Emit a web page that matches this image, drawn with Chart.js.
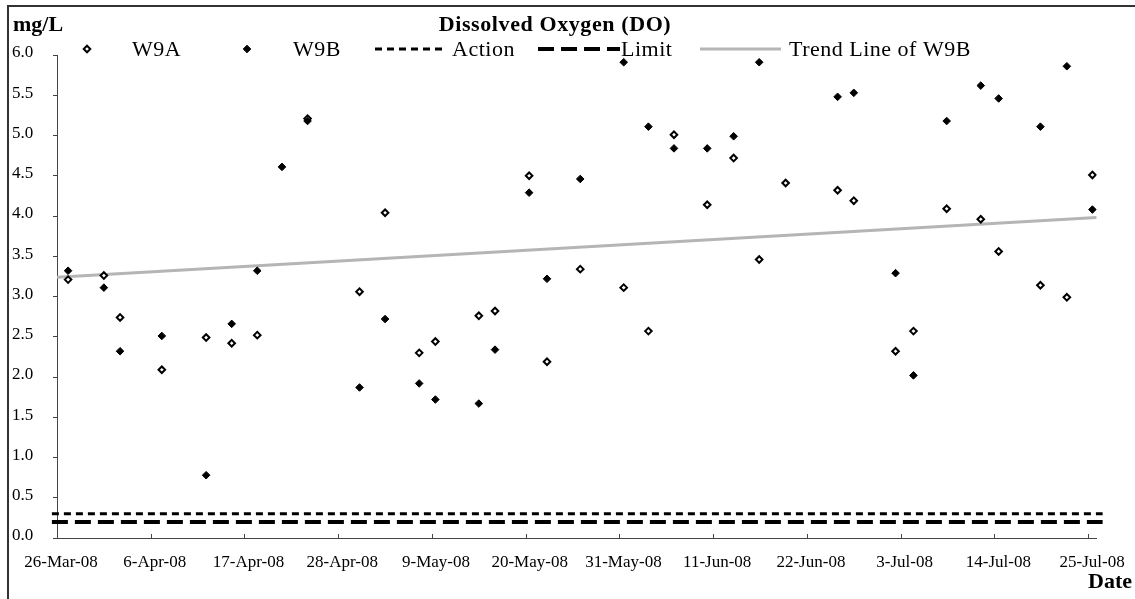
<!DOCTYPE html>
<html>
<head>
<meta charset="utf-8">
<script src="https://cdn.jsdelivr.net/npm/chart.js@4.4.1/dist/chart.umd.min.js"></script>
<style>
    html, body { margin: 0; padding: 0; background: #fff; }
    #wrap { position: relative; width: 1135px; height: 599px; }
</style>
</head>
<body>
<div id="wrap"><canvas id="doChart" width="1135" height="599"></canvas></div>
<script>
// Chart data
const chartTitle = 'Dissolved Oxygen (DO)';
const tickLabels = ['26-Mar-08', '6-Apr-08', '17-Apr-08', '28-Apr-08', '9-May-08', '20-May-08',
    '31-May-08', '11-Jun-08', '22-Jun-08', '3-Jul-08', '14-Jul-08', '25-Jul-08'];
const tickStep = 11;   // days between date ticks
const axisDays = 122;  // 26-Mar-08 .. 26-Jul-08

// sampling days, counted from 26-Mar-08
const sampleDays = [1.3, 5.5, 7.4, 12.3, 17.5, 20.5, 23.5, 26.4, 29.4, 35.5, 38.5, 42.5, 44.4, 49.5,
    51.4, 55.4, 57.5, 61.4, 66.5, 69.4, 72.4, 76.3, 79.4, 82.4, 85.5, 91.6, 93.5, 98.4, 100.5,
    104.4, 108.4, 110.5, 115.4, 118.5, 121.5];
const w9aValues = [3.21, 3.26, 2.74, 2.09, 2.49, 2.42, 2.52, null, 5.21, 3.06, 4.04, 2.30, 2.44, 2.76,
    2.82, 4.50, 2.19, 3.34, 3.11, 2.57, 5.01, 4.14, 4.72, 3.46, 4.41, 4.32, 4.19, 2.32, 2.57,
    4.09, 3.96, 3.56, 3.14, 2.99, 4.51];
const w9bValues = [3.32, 3.11, 2.32, 2.51, 0.78, 2.66, 3.32, 4.61, 5.18, 1.87, 2.72, 1.92, 1.72, 1.67,
    2.34, 4.29, 3.22, 4.46, 5.91, 5.11, 4.84, 4.84, 4.99, 5.91, null, 5.48, 5.53, 3.29, 2.02,
    5.18, 5.62, 5.46, 5.11, 5.86, 4.08];

const actionLevel = 0.3;
const limitLevel = 0.2;
const trendDays = [0, 122];
const trendValues = [3.24, 3.98];

function toPoints(days, values) {
    const pts = [];
    days.forEach((d, i) => {
        if (values[i] !== null) pts.push({ x: d, y: values[i] });
    });
    return pts;
}

const serif = '"Liberation Serif", "Times New Roman", serif';

function diamond(ctx, x, y, r, fill, stroke, lw) {
    ctx.beginPath();
    ctx.moveTo(x, y - r);
    ctx.lineTo(x + r, y);
    ctx.lineTo(x, y + r);
    ctx.lineTo(x - r, y);
    ctx.closePath();
    ctx.fillStyle = fill;
    ctx.fill();
    ctx.lineWidth = lw;
    ctx.strokeStyle = stroke;
    ctx.stroke();
}

// frame, inward date ticks, titles and the legend row
const decorations = {
    id: 'decorations',
    afterDraw(chart) {
        const ctx = chart.ctx;
        const xs = chart.scales.x;
        const area = chart.chartArea;
        ctx.save();

        ctx.strokeStyle = '#333';
        ctx.lineWidth = 2;
        ctx.beginPath();
        ctx.moveTo(8, 600);
        ctx.lineTo(8, 6);
        ctx.lineTo(1136, 6);
        ctx.stroke();

        ctx.strokeStyle = '#444';
        ctx.lineWidth = 1;
        ctx.beginPath();
        tickLabels.forEach((_, i) => {
            const px = Math.round(xs.getPixelForValue(i * tickStep)) + 0.5;
            ctx.moveTo(px, area.bottom);
            ctx.lineTo(px, area.bottom - 4);
        });
        ctx.stroke();

        ctx.fillStyle = '#000';
        ctx.textBaseline = 'alphabetic';
        ctx.font = 'bold 22px ' + serif;
        ctx.textAlign = 'left';
        ctx.fillText('mg/L', 13, 31);
        ctx.textAlign = 'right';
        ctx.fillText('Date', 1132, 588);
        ctx.letterSpacing = '0.6px';
        ctx.textAlign = 'center';
        ctx.fillText(chartTitle, 555, 31);

        // legend
        const ly = 49;
        ctx.font = '22px ' + serif;
        ctx.letterSpacing = '0.5px';
        ctx.textAlign = 'left';
        diamond(ctx, 87, ly, 3.3, '#fff', '#000', 2);
        ctx.fillStyle = '#000';
        ctx.fillText('W9A', 132, 56);
        diamond(ctx, 247, ly, 3.8, '#000', '#000', 1);
        ctx.fillStyle = '#000';
        ctx.fillText('W9B', 293, 56);

        ctx.strokeStyle = '#000';
        ctx.lineWidth = 3;
        ctx.setLineDash([7, 5]);
        ctx.beginPath(); ctx.moveTo(375, ly); ctx.lineTo(444, ly); ctx.stroke();
        ctx.fillText('Action', 452, 56);

        ctx.lineWidth = 4;
        ctx.setLineDash([16, 7]);
        ctx.beginPath(); ctx.moveTo(538, ly); ctx.lineTo(620, ly); ctx.stroke();
        ctx.fillText('Limit', 621, 56);

        ctx.setLineDash([]);
        ctx.strokeStyle = '#b5b5b5';
        ctx.lineWidth = 3;
        ctx.beginPath(); ctx.moveTo(700, ly); ctx.lineTo(781, ly); ctx.stroke();
        ctx.fillText('Trend Line of W9B', 789, 56);

        ctx.restore();
    }
};

const ctx = document.getElementById('doChart').getContext('2d');
new Chart(ctx, {
    type: 'scatter',
    data: {
        datasets: [{
            label: 'W9B',
            data: toPoints(sampleDays, w9bValues),
            pointStyle: 'rectRot',
            pointRadius: 3.8,
            pointBackgroundColor: '#000',
            pointBorderColor: '#000',
            pointBorderWidth: 1,
            order: 0
        }, {
            label: 'W9A',
            data: toPoints(sampleDays, w9aValues),
            pointStyle: 'rectRot',
            pointRadius: 3.3,
            pointBackgroundColor: '#fff',
            pointBorderColor: '#000',
            pointBorderWidth: 2,
            order: 1
        }, {
            label: 'Trend Line of W9B',
            data: toPoints(trendDays, trendValues),
            showLine: true,
            pointRadius: 0,
            borderColor: '#b5b5b5',
            borderWidth: 3,
            order: 2
        }, {
            label: 'Action',
            data: [{ x: -0.6, y: actionLevel }, { x: 122.7, y: actionLevel }],
            showLine: true,
            pointRadius: 0,
            borderColor: '#000',
            borderWidth: 3,
            borderDash: [7, 5],
            clip: false,
            order: 3
        }, {
            label: 'Limit',
            data: [{ x: -0.6, y: limitLevel }, { x: 122.7, y: limitLevel }],
            showLine: true,
            pointRadius: 0,
            borderColor: '#000',
            borderWidth: 4,
            borderDash: [16, 7],
            clip: false,
            order: 4
        }]
    },
    options: {
        responsive: false,
        animation: false,
        devicePixelRatio: 1,
        layout: { padding: { top: 55, right: 34, left: 12, bottom: 0 } },
        plugins: {
            legend: { display: false },
            tooltip: { enabled: false }
        },
        scales: {
            x: {
                type: 'linear',
                min: 0,
                max: axisDays,
                afterFit: (scale) => { scale.height = 61; },
                afterBuildTicks: (scale) => {
                    scale.ticks = tickLabels.map((_, i) => ({ value: i * tickStep }));
                },
                grid: { drawOnChartArea: false, drawTicks: false },
                border: { color: '#444', width: 1 },
                ticks: {
                    padding: 14,
                    labelOffset: 4,
                    maxRotation: 0,
                    autoSkip: false,
                    color: '#000',
                    font: { family: serif, size: 17 },
                    callback: (v) => tickLabels[Math.round(v / tickStep)]
                }
            },
            y: {
                min: 0,
                max: 6,
                afterFit: (scale) => { scale.width = 45; },
                grid: { drawOnChartArea: false, drawTicks: true, tickLength: 4, color: '#444' },
                border: { color: '#444', width: 1 },
                ticks: {
                    stepSize: 0.5,
                    crossAlign: 'far',
                    labelOffset: -2,
                    color: '#000',
                    font: { family: serif, size: 17 },
                    callback: (v) => v.toFixed(1)
                }
            }
        }
    },
    plugins: [decorations]
});
</script>
</body>
</html>
